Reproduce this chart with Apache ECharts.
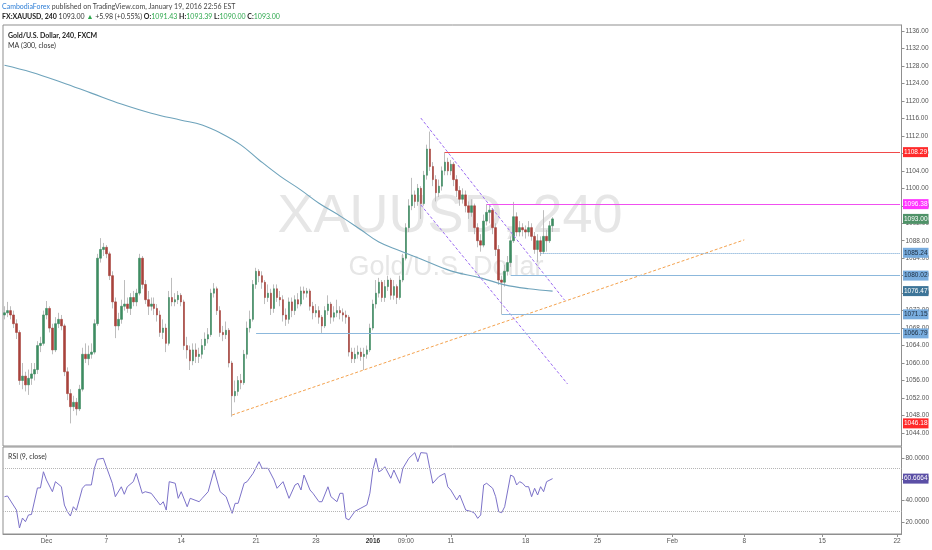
<!DOCTYPE html>
<html><head><meta charset="utf-8">
<script src="https://cdn.jsdelivr.net/npm/echarts@6/dist/echarts.min.js"></script>
<style>html,body{margin:0;padding:0;background:#fff}#c{width:932px;height:550px}</style>
</head><body><div id="c"></div>
<script>
// ---- time slots (4h bars) and tick labels ----
const SLOT_COUNT = 300;
const tickBars  = [14, 34, 59, 84, 104, 123, 134, 149, 174, 198, 223, 247, 273, 298];
const tickTexts = ['Dec','7','14','21','28','2016','09:00','11','18','25','Feb','8','15','22'];

// ---- XAUUSD 240 candles ----
const opens = [1071,1071.5,1072,1071,1069,1067,1056,1057,1055,1056.5,
1057.5,1058.5,1064,1064.5,1071,1072.5,1068,1063,1069,1070,
1068.5,1058,1053,1050,1051,1049.5,1054,1062,1061,1062,
1062.5,1069,1084,1086,1086.5,1085,1080,1074,1068.5,1070,
1073,1073.5,1072.5,1075,1074,1076,1084,1078,1074.5,1073,
1073.5,1072.5,1071,1067,1068,1064.5,1075,1074,1074.5,1075.5,
1074,1064,1063,1060.5,1063,1061.5,1062,1064,1065.5,1066.5,
1076,1077,1072,1067,1066.5,1067.5,1060,1052.5,1053.5,1056,
1055.5,1062,1068,1070,1078,1081,1080,1078.5,1075,1076,
1072.5,1077,1075,1074.5,1071,1070,1074,1072,1074.5,1073.5,
1076.5,1076,1076.5,1073,1071.5,1072,1070.5,1068.5,1072,1073.5,
1070.5,1071.5,1072,1071.5,1071,1070.5,1062.5,1061,1062,1062.5,
1061.5,1062,1063,1068,1073.5,1076,1078.5,1075,1077.5,1079,
1075.5,1077.5,1075,1079,1084,1091,1096,1098.5,1097,1100,
1096.5,1103,1109,1105,1102,1099,1100.5,1104,1106,1104,
1105.5,1102,1099.5,1097.5,1098.5,1096,1094.5,1096,1091,1088,
1087,1092.5,1094.5,1095,1091,1086,1079,1078.5,1081,1083,
1088,1093.5,1090,1091,1090.5,1090,1091,1089,1086,1088,
1085.5,1089,1088,1091.43];
const closes = [1071.5,1072,1071,1069,1067,1056,1057,1055,1056.5,1057.5,
1058.5,1064,1064.5,1071,1072.5,1068,1063,1069,1070,1068.5,
1058,1053,1050,1051,1049.5,1054,1062,1061,1062,1062.5,
1069,1084,1086,1086.5,1085,1080,1074,1068.5,1070,1073,
1073.5,1072.5,1075,1074,1076,1084,1078,1074.5,1073,1073.5,
1072.5,1071,1067,1068,1064.5,1075,1074,1074.5,1075.5,1074,
1064,1063,1060.5,1063,1061.5,1062,1064,1065.5,1066.5,1076,
1077,1072,1067,1066.5,1067.5,1060,1052.5,1053.5,1056,1055.5,
1062,1068,1070,1078,1081,1080,1078.5,1075,1076,1072.5,
1077,1075,1074.5,1071,1070,1074,1072,1074.5,1073.5,1076.5,
1076,1076.5,1073,1071.5,1072,1070.5,1068.5,1072,1073.5,1070.5,
1071.5,1072,1071.5,1071,1070.5,1062.5,1061,1062,1062.5,1061.5,
1062,1063,1068,1073.5,1076,1078.5,1075,1077.5,1079,1075.5,
1077.5,1075,1079,1084,1091,1096,1098.5,1097,1100,1096.5,
1103,1109,1105,1102,1099,1100.5,1104,1106,1104,1105.5,
1102,1099.5,1097.5,1098.5,1096,1094.5,1096,1091,1088,1087,
1092.5,1094.5,1095,1091,1086,1079,1078.5,1081,1083,1088,
1093.5,1090,1091,1090.5,1090,1091,1089,1086,1088,1085.5,
1089,1088,1091.43,1093];
const highs = [1073,1074,1073,1072,1070,1067.5,1060,1058,1058.5,1060,
1060,1065,1066,1072,1074.2,1073,1069,1070.5,1071.5,1071,
1069,1059,1054,1052.5,1052,1055,1063.5,1064.5,1064,1064.5,
1070,1085,1088.6,1087.5,1087,1085.5,1081,1075,1071.5,1074.5,
1079,1075,1076,1076.5,1077,1085,1084.5,1079,1076.5,1075,
1075,1073.5,1072,1070,1069,1076.5,1079.5,1076,1076.5,1076,
1074.5,1066,1064,1064.5,1064.5,1063.5,1065.5,1067,1068,1077,
1078.3,1077.5,1073,1068.5,1069.5,1068,1060.5,1056,1057,1057.5,
1063,1069.5,1072,1079,1081.8,1081.5,1081,1079,1078,1077,
1078,1078,1076.5,1075.5,1072.5,1075,1075,1075.5,1076,1077.5,
1077.5,1077.2,1077,1074,1073.5,1073,1071,1073,1075.5,1074,
1073,1074.5,1073,1072.5,1072,1071,1063.5,1063.5,1064,1063.5,
1063.5,1064,1069,1074.5,1079,1079.5,1079,1079,1080,1079.5,
1079,1078,1080,1085,1092,1097.5,1102.4,1099.5,1101,1100.5,
1104,1110,1113,1106,1103,1102,1105,1108.29,1107,1106.5,
1106,1103,1100.5,1100,1099.5,1097,1097.5,1096.5,1092,1089.5,
1094,1096.38,1096,1095.5,1092,1087,1080,1082.5,1084.5,1089,
1096.9,1094.5,1092.5,1092,1091.5,1092.5,1092,1090,1089.5,1089,
1095,1090.5,1092.5,1093.39];
const lows = [1070,1070.5,1070,1068,1065.5,1055,1054,1053.5,1052.7,1055,
1056,1057.5,1062.5,1064,1070,1067,1062,1062.5,1068,1067.5,
1057,1051.5,1046.18,1049,1048,1049,1053.5,1060,1059.5,1061,
1062,1068.5,1083,1084.5,1084,1079,1072.5,1065.7,1067.5,1069,
1072,1071.5,1071,1073,1073,1075.5,1077,1073.5,1071,1072,
1071,1069.5,1066,1065.5,1062.5,1064,1073,1073,1073.5,1073,
1063,1061,1058.4,1059.5,1060,1060,1061,1063,1064.5,1066,
1075,1071,1066,1065,1065.5,1059,1047.7,1051,1052.5,1054,
1055,1061,1067,1069.5,1077,1078.5,1077,1073.5,1074,1071,
1071.5,1074,1073,1069.5,1068.5,1069,1070.5,1071,1072.5,1073,
1074.5,1075,1072,1070,1070.5,1069,1066.9,1068,1071,1069,
1069.5,1070.5,1070,1069.5,1069,1061.5,1060,1060,1061,1060.5,
1058.4,1061,1062.5,1067.5,1072.5,1075,1074,1074,1076.5,1074.5,
1074.5,1073.5,1074.5,1078.5,1083.5,1090,1095,1095.5,1096,1093,
1096,1102,1104,1100.5,1097,1098,1099.5,1103,1103,1103,
1100.5,1098,1096,1096.5,1094.5,1093,1093.5,1089.5,1086.5,1085.5,
1086.5,1091.5,1092,1089.5,1084.5,1077.9,1071.15,1077.5,1080.02,1082,
1087.5,1089,1089,1089,1088.5,1089,1088,1085,1083.1,1084.5,
1085,1085.5,1087.5,1090];

// ---- MA(300, close) ----
const maBars   = [0,9,19,29,39,49,59,66,72,79,85,92,99,105,112,119,125,132,139,149,159,167,175,183];
const maValues = [1128.2,1126.6,1124.3,1121.8,1119.3,1117.2,1115.6,1114.5,1112.7,1109.9,1106.5,1102.8,1099.6,1096.6,1093.7,1090.5,1087.7,1085.7,1083.8,1081.1,1079.5,1077.9,1077.0,1076.47];

// ---- RSI(9, close) ----
const rsiBars = [0,1,4,5,6,7,8,9,11,12,13,14,16,17,19,20,21,22,23,24,26,27,29,30,31,33,34,36,37,39,40,41,43,44,46,47,49,52,53,54,55,57,58,59,61,62,65,66,68,70,72,74,76,77,78,80,81,83,85,86,88,90,91,93,95,97,98,99,100,102,103,105,106,108,109,111,112,113,114,115,117,119,121,122,123,124,125,126,127,129,130,132,133,135,137,138,139,141,142,143,145,147,148,149,151,152,154,156,157,158,159,160,161,163,164,165,166,167,169,170,171,172,173,174,175,176,177,178,179,180,181,183];
const rsiValues = [43.7,44.4,31.2,14.4,23.7,20.3,26.6,27,51.9,52,67.1,59.4,48.4,57.8,53.1,35.9,29.7,25.6,34.3,31,51.6,54.7,54.7,70.3,78.8,79.7,71.8,56.3,43.7,53,46,53,57.8,65.6,46.9,48.4,46.9,35.9,39,31.2,57.8,56.3,42.2,48.4,34.3,42.2,39,42.2,48.4,68.7,48.4,43.7,28.1,37.5,37.5,56.3,57.8,65.6,76.5,70.3,70.3,59.4,51.6,57.8,42.2,54.7,56.3,50,64,50,46.9,39,39,53,43.7,39,46.9,46.9,23.4,22,30,33,36,47,68.7,79.7,67,68.7,71.8,61,68.7,56.3,70.3,79.7,85,76.5,85,84.5,70.3,56.3,62.5,65.6,53,50,40.6,45.3,31.2,29.7,28.1,23.4,26.6,54.7,56.3,51.6,43.7,29.7,28.7,34.3,64,62.5,54.7,57.8,56.3,53.1,53.1,43.7,51.6,45.3,53.1,48.4,57.8,60.6664];
const rsiLast = 60.6664;
const rsiBands = [30, 70];

// ---- drawn levels & trend lines ----
const levelValues   = [1108.29, 1096.38, 1085.24, 1080.02, 1071.15, 1066.79];
const levelStartBar = [147, 161, 179, 169, 166, 84];
const lastPrice = 1093.00;
const maLast = 1076.47;
const lowMark = 1046.18;
const trendOrange = [[76, 1048.1], [247, 1088.2]];
const channelUpper = [[139, 1116.1], [187, 1074.4]];
const channelLower = [[139, 1096.2], [188, 1055.2]];

const priceTicks = [1044,1048,1052,1056,1060,1064,1068,1072,1076,1080,1084,1088,1092,1096,1100,1104,1108,1112,1116,1120,1124,1128,1132,1136];
const rsiTicks = [20, 40, 60, 80];

// ---------------- styles ----------------
const FONT = 'Lato, "Liberation Sans", sans-serif';
const AXF = '"Liberation Sans", Arial, sans-serif';
const AX = '#8f8f8f';
const levelStyle = [
  {line:'#f04a4a', type:'solid', bg:'#ff2a2a', fg:'#fff'},
  {line:'#f050f0', type:'solid', bg:'#ff33ff', fg:'#fff'},
  {line:'#6a9fd0', type:'dotted', bg:'#78acde', fg:'#1d2c3d'},
  {line:'#8cb8dc', type:'solid', bg:'#78acde', fg:'#1d2c3d'},
  {line:'#8cb8dc', type:'solid', bg:'#78acde', fg:'#1d2c3d'},
  {line:'#8cb8dc', type:'solid', bg:'#78acde', fg:'#1d2c3d'}
];
function boxLabel(v, bg, fg, dec) {
  return {show:true, position:'end', distance:3, formatter: v.toFixed(dec), backgroundColor:bg, color:fg,
          fontSize:6.5, fontFamily:AXF, padding:[2,1,1,1]};
}
const hidden = {color:'rgba(0,0,0,0)', width:0};

const slots = Array.from({length: SLOT_COUNT}, (_, i) => String(i));
const candles = closes.map((c, i) => [opens[i], c, lows[i], highs[i]]);
const bodies  = closes.map((c, i) => [opens[i], c, Math.min(opens[i], c), Math.max(opens[i], c)]);
const maData  = maBars.map((b, i) => [b, maValues[i]]);
const rsiData = rsiBars.map((b, i) => [b, rsiValues[i]]);
const END = SLOT_COUNT - 1;

const levelMarks = levelValues.map((v, i) => [
  {coord:[levelStartBar[i], v], lineStyle:{color:levelStyle[i].line, type:levelStyle[i].type, width:1},
   label: boxLabel(v, levelStyle[i].bg, levelStyle[i].fg, 2)},
  {coord:[END, v]}
]);
levelMarks.push([{coord:[END-1, lastPrice], lineStyle:hidden, label:boxLabel(lastPrice, '#4f9268', '#fff', 2)}, {coord:[END, lastPrice]}]);
levelMarks.push([{coord:[END-1, maLast], lineStyle:hidden, label:boxLabel(maLast, '#3d7598', '#fff', 2)}, {coord:[END, maLast]}]);
levelMarks.push([{coord:[END-1, lowMark], lineStyle:hidden, label:boxLabel(lowMark, '#ff2a2a', '#fff', 2)}, {coord:[END, lowMark]}]);

const tickFilter = (idx) => tickBars.indexOf(idx) >= 0;

const option = {
  animation: false,
  backgroundColor: '#ffffff',
  grid: [
    {left:3, top:25, width:900, height:421, show:true, borderColor:AX, borderWidth:1, backgroundColor:'transparent'},
    {left:3, top:447, width:900, height:87, show:true, borderColor:AX, borderWidth:1, backgroundColor:'transparent'}
  ],
  xAxis: [
    {type:'category', gridIndex:0, data:slots, boundaryGap:true, axisLine:{show:false}, axisTick:{show:false}, axisLabel:{show:false}, splitLine:{show:false}},
    {type:'category', gridIndex:1, data:slots, boundaryGap:true,
     axisLine:{show:true, lineStyle:{color:AX}},
     axisTick:{show:true, interval:tickFilter, length:3, lineStyle:{color:AX}, alignWithLabel:true},
     axisLabel:{show:true, interval:tickFilter, margin:4, fontSize:6.5, color:'#555', fontFamily:AXF,
       formatter:(val) => { const k = tickBars.indexOf(Number(val)); if (k < 0) return ''; return tickTexts[k] === '2016' ? '{b|2016}' : tickTexts[k]; },
       rich:{b:{fontWeight:'bold', fontSize:6.5, color:'#333', fontFamily:AXF}}},
     splitLine:{show:false}}
  ],
  yAxis: [
    {type:'value', gridIndex:0, position:'right', min:1041, max:1137.4, scale:true,
     axisLine:{show:true, lineStyle:{color:AX}},
     axisTick:{show:true, length:3, customValues:priceTicks, lineStyle:{color:AX}},
     axisLabel:{show:true, customValues:priceTicks, margin:4, fontSize:6.5, color:'#555', fontFamily:AXF, formatter:(v) => v.toFixed(2)},
     splitLine:{show:false}},
    {type:'value', gridIndex:1, position:'right', min:8.75, max:90.3,
     axisLine:{show:true, lineStyle:{color:AX}},
     axisTick:{show:true, length:3, customValues:rsiTicks, lineStyle:{color:AX}},
     axisLabel:{show:true, customValues:rsiTicks, margin:4, fontSize:6.5, color:'#555', fontFamily:AXF, formatter:(v) => v.toFixed(4)},
     splitLine:{show:false}}
  ],
  graphic: [
    {type:'text', x:450, y:217, z:0, silent:true, style:{text:'XAUUSD, 240', fill:'#e6e6e6', font:'54px "Liberation Sans", Arial, sans-serif', align:'center', verticalAlign:'middle', textAlign:'center', textVerticalAlign:'middle'}},
    {type:'text', x:446, y:268, z:0, silent:true, style:{text:'Gold/U.S. Dollar', fill:'#e6e6e6', font:'27px "Liberation Sans", Arial, sans-serif', align:'center', verticalAlign:'middle', textAlign:'center', textVerticalAlign:'middle'}},
    {type:'text', x:2, y:7, z:10, style:{text:'{a|CambodiaForex}{b| published on TradingView.com, January 19, 2016 22:56 EST}', font:'7px ' + FONT, verticalAlign:'middle', textVerticalAlign:'middle',
      rich:{a:{fill:'#2f7fd6', font:'7px ' + FONT}, b:{fill:'#444', font:'7px ' + FONT}}}},
    {type:'text', x:2, y:17, z:10, style:{text:'{k|FX:XAUUSD, 240} {v|1093.00} {g|\u25B2} {v|+5.98 (+0.55%)} {k|O:}{g|1091.43} {k|H:}{g|1093.39} {k|L:}{g|1090.00} {k|C:}{g|1093.00}', font:'7px ' + FONT, verticalAlign:'middle', textVerticalAlign:'middle',
      rich:{k:{fill:'#222', font:'bold 7px ' + FONT}, v:{fill:'#333', font:'7px ' + FONT}, g:{fill:'#2ea84e', font:'7px ' + FONT}}}},
    {type:'text', x:8, y:36, z:10, style:{text:'Gold/U.S. Dollar, 240, FXCM', fill:'#222', font:'bold 7px ' + FONT, verticalAlign:'middle', textVerticalAlign:'middle'}},
    {type:'text', x:8, y:46, z:10, style:{text:'MA (300, close)', fill:'#333', font:'7px ' + FONT, verticalAlign:'middle', textVerticalAlign:'middle'}},
    {type:'text', x:8, y:457, z:10, style:{text:'RSI (9, close)', fill:'#333', font:'7px ' + FONT, verticalAlign:'middle', textVerticalAlign:'middle'}}
  ],
  series: [
    {name:'wicks', type:'candlestick', xAxisIndex:0, yAxisIndex:0, data:candles, barWidth:1, z:2,
     itemStyle:{color:'#bdbdbd', color0:'#bdbdbd', borderColor:'#bdbdbd', borderColor0:'#bdbdbd', borderWidth:1}},
    {name:'bodies', type:'candlestick', xAxisIndex:0, yAxisIndex:0, data:bodies, barWidth:2, z:3,
     itemStyle:{color:'#3e8c62', color0:'#a8433c', borderColor:'#3e8c62', borderColor0:'#a8433c', borderWidth:0.6},
     markLine:{silent:true, symbol:['none','none'], animation:false, data:levelMarks}},
    {name:'MA', type:'line', xAxisIndex:0, yAxisIndex:0, data:maData, smooth:0.4, showSymbol:false, symbol:'none', z:4,
     lineStyle:{color:'#6ea3bb', width:1.1}},
    {name:'trend', type:'line', xAxisIndex:0, yAxisIndex:0, data:trendOrange, symbol:'none', z:4,
     lineStyle:{color:'#f4a24e', width:1, type:[3,2]}},
    {name:'chanU', type:'line', xAxisIndex:0, yAxisIndex:0, data:channelUpper, symbol:'none', z:4,
     lineStyle:{color:'#9c6cf2', width:1, type:[3,2]}},
    {name:'chanL', type:'line', xAxisIndex:0, yAxisIndex:0, data:channelLower, symbol:'none', z:4,
     lineStyle:{color:'#9c6cf2', width:1, type:[3,2]}},
    {name:'RSI', type:'line', xAxisIndex:1, yAxisIndex:1, data:rsiData, symbol:'none', z:4,
     lineStyle:{color:'#7c72c9', width:1},
     markLine:{silent:true, symbol:['none','none'], animation:false,
       data:[
         {yAxis:rsiBands[0], lineStyle:{color:'#b5b5b5', type:'dotted', width:1}, label:{show:false}},
         {yAxis:rsiBands[1], lineStyle:{color:'#b5b5b5', type:'dotted', width:1}, label:{show:false}},
         [{coord:[END-1, rsiLast], lineStyle:hidden, label:boxLabel(rsiLast, '#5b4fa6', '#fff', 4)}, {coord:[END, rsiLast]}]
       ]}}
  ]
};
const chart = echarts.init(document.getElementById('c'));
chart.setOption(option);
</script></body></html>
